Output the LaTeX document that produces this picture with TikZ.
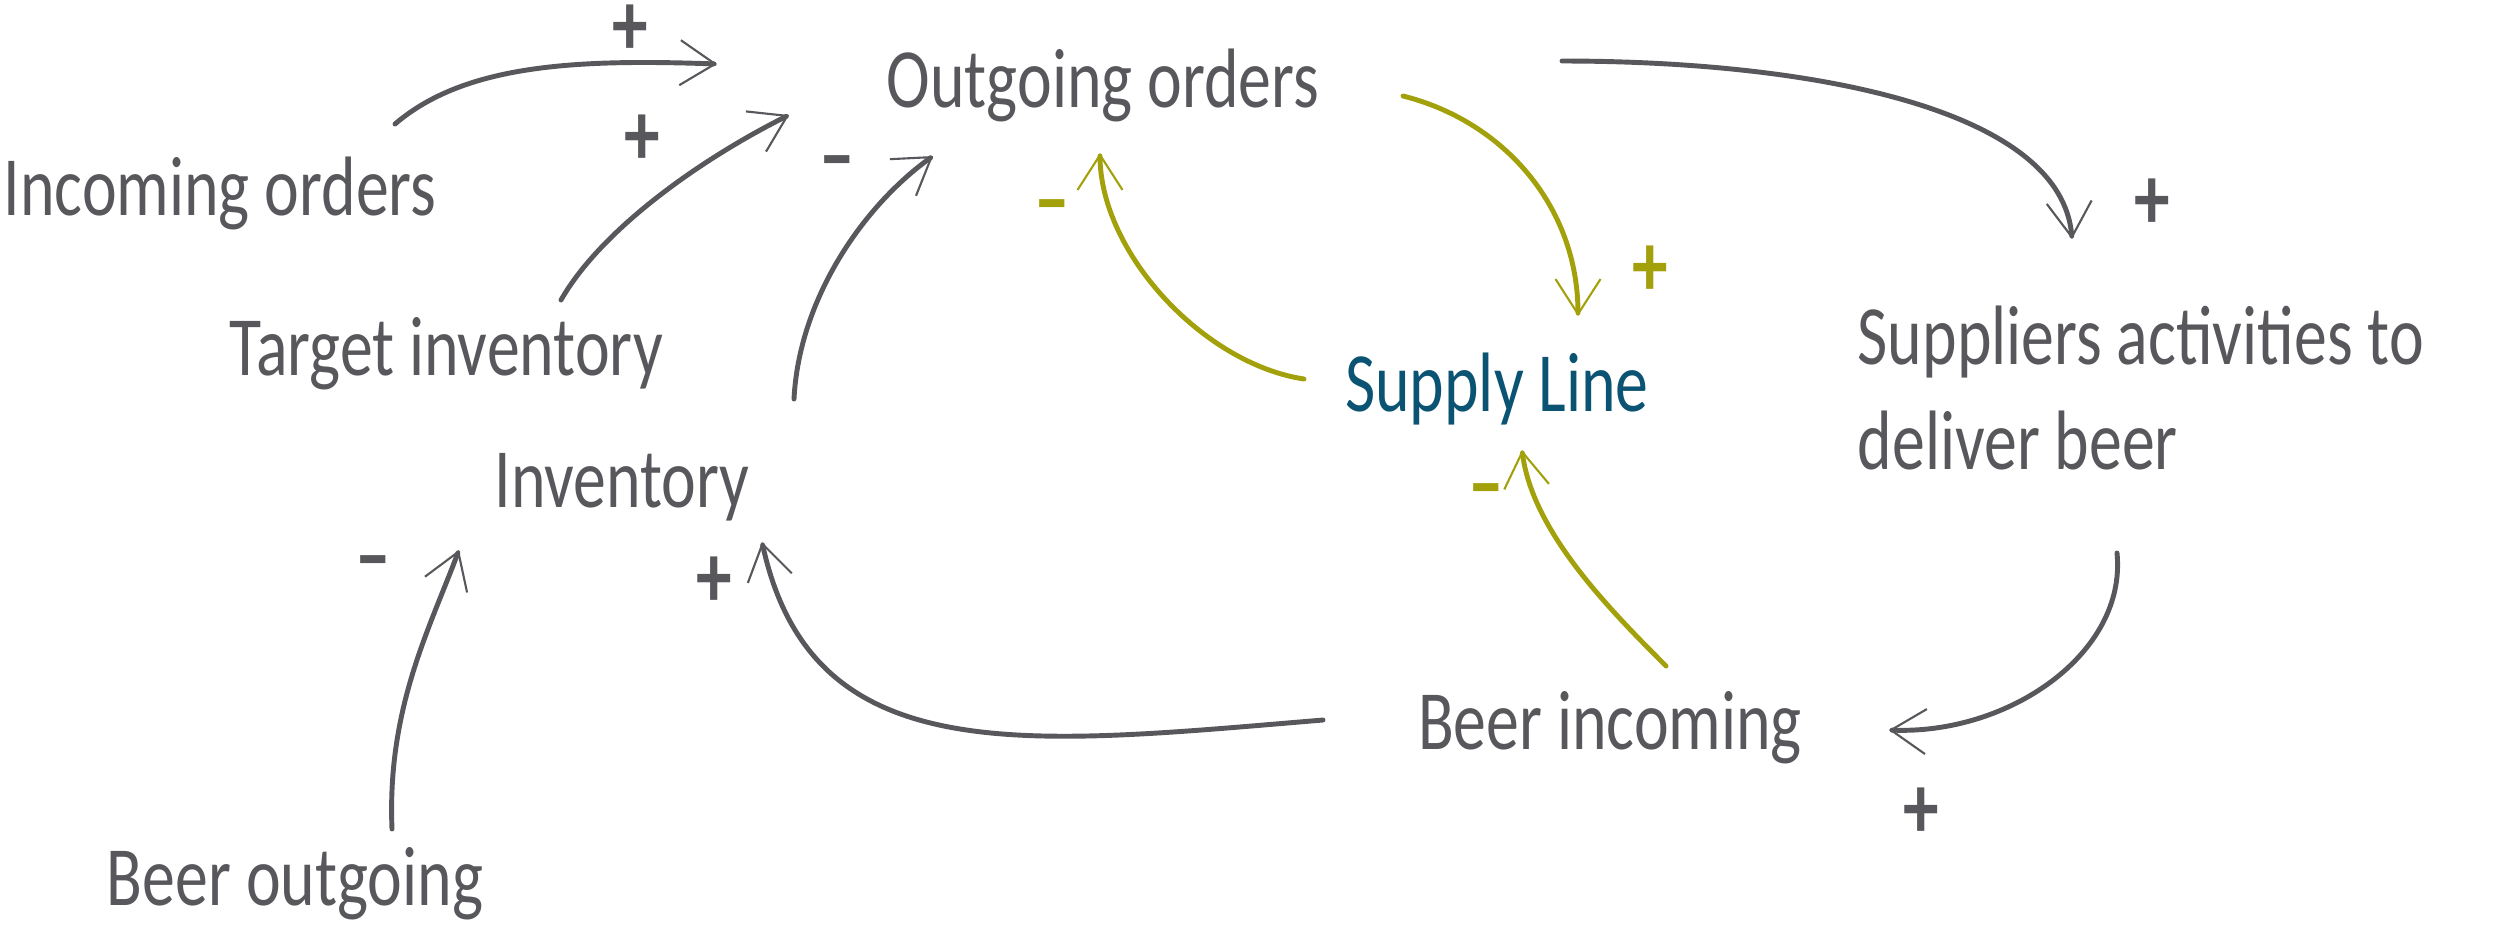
\documentclass[tikz,border=0pt]{standalone}
\usepackage{fontspec}
\setmainfont{Carlito}[FakeStretch=0.78]
\usepackage{xcolor}
\usetikzlibrary{arrows.meta,calc}
\definecolor{bgInk}{HTML}{58575B}
\definecolor{bgOlive}{HTML}{A3A10B}
\definecolor{bgTeal}{HTML}{0B5372}
\tikzset{
  loop label/.style={text=bgInk,inner sep=0pt,anchor=base,font=\fontsize{24}{30}\selectfont},
  loop sign/.style={loop label,anchor=center,font=\fontsize{26}{28}\selectfont\bfseries},
  loop arrow/.style={-{Straight Barb[length=3.5mm,width=4.5mm,line width=0.6pt]},line width=1.4pt,draw=bgInk,line cap=round},
  supply arrow/.style={loop arrow,draw=bgOlive}
}
\begin{document}
\begin{tikzpicture}[x=0.1mm,y=-0.1mm]
\useasboundingbox (0,0) rectangle (2500,945);
\node[loop label] (inc) at (220,215) {Incoming orders};
\node[loop label] (out) at (1103,107) {Outgoing orders};
\node[loop label] (tgt) at (446,375) {Target inventory};
\node[loop label] (inv) at (622,507) {Inventory};
\node[loop label,text=bgTeal] (sup) at (1497,411) {Supply Line};
\node[loop label,anchor=west,align=left] (act) at (1857,388) {Suppliers activities to\\deliver beer};
\node[loop label] (bin) at (1610,749) {Beer incoming};
\node[loop label] (bout) at (295,905) {Beer outgoing};
\draw[loop arrow] ([shift={(175,-91)}]inc.base) .. controls +(70,-60) and +(-140,-5) .. ([shift={(-386,-43)}]out.base);
\draw[loop arrow] ([shift={(115,-75)}]tgt.base) .. controls +(40,-70) and +(-90,45) .. ([shift={(-314,8)}]out.base);
\draw[loop arrow] ([shift={(172,-108)}]inv.base) .. controls +(5,-100) and +(-70,50) .. ([shift={(-170,49)}]out.base);
\draw[supply arrow] ([shift={(300,-11)}]out.base) .. controls +(100,25) and +(0,-110) .. ([shift={(81,-95)}]sup.base);
\draw[supply arrow] ([shift={(-193,-32)}]sup.base) .. controls +(-100,-15) and +(0,100) .. ([shift={(-3,46)}]out.base);
\draw[loop arrow] ([shift={(459,-46)}]out.base) .. controls +(250,0) and +(-10,-130) .. ([shift={(215,-149)}]act.west);
\draw[loop arrow] ([shift={(260,165)}]act.west) .. controls +(10,100) and +(120,5) .. ([shift={(279,-19)}]bin.base);
\draw[supply arrow] ([shift={(56,-83)}]bin.base) .. controls +(-60,-60) and +(10,80) .. ([shift={(25,39)}]sup.base);
\draw[loop arrow] ([shift={(-287,-29)}]bin.base) .. controls +(-300,25) and +(50,230) .. ([shift={(140,35)}]inv.base);
\draw[loop arrow] ([shift={(97,-76)}]bout.base) .. controls +(-5,-120) and +(-30,80) .. ([shift={(-163,43)}]inv.base);
\node[loop sign] (s1) at (630,30) {+};
\node[loop sign] (s2) at (642,140) {+};
\node[loop sign] (s3) at (837,171) {--};
\node[loop sign,text=bgOlive] (s4) at (1650,271) {+};
\node[loop sign,text=bgOlive] (s5) at (1052,215) {--};
\node[loop sign] (s6) at (2152,204) {+};
\node[loop sign] (s7) at (1921,813) {+};
\node[loop sign,text=bgOlive] (s8) at (1486,499) {--};
\node[loop sign] (s9) at (714,582) {+};
\node[loop sign] (s10) at (373,571) {--};
\end{tikzpicture}
\end{document}
